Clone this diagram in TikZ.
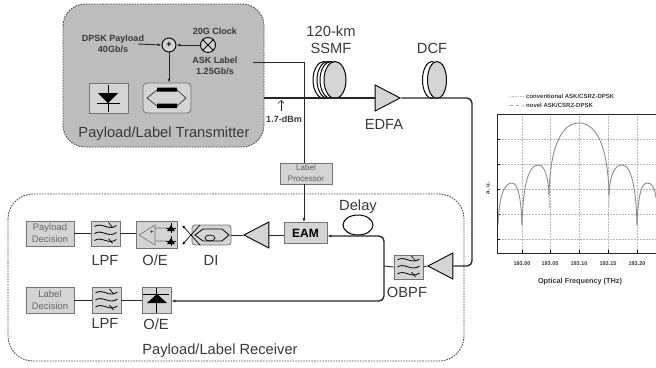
\documentclass[tikz,border=0pt]{standalone}
\usepackage{fontspec}
\setmainfont{Liberation Sans}
\usetikzlibrary{arrows.meta, positioning, shapes.geometric}

\definecolor{boxgray}{gray}{0.83}
\definecolor{txgray}{gray}{0.74}
\definecolor{inkgray}{gray}{0.22}

\tikzset{
    blockbox/.style={draw=gray!90!black, fill=boxgray, line width=0.8pt, inner sep=0pt, align=center},
    amptri/.style={draw=black, fill=boxgray, line width=0.9pt, isosceles triangle, isosceles triangle stretches,
        inner sep=0pt, minimum width=26pt, minimum height=25pt},
    amprx/.style={amptri, shape border rotate=180},
    coil/.style={draw=black, ellipse, line width=1pt, inner sep=0pt, minimum width=22pt, minimum height=37pt},
    fibre/.style={draw=black!85, line width=1.4pt},
    wire/.style={draw=black!85, line width=0.9pt},
    dashedframe/.style={draw=black!70, line width=0.9pt, dash pattern=on 1.6pt off 1.1pt},
    bigtxt/.style={font=\fontsize{14.7}{16}\selectfont, text=inkgray, inner sep=0pt},
    smalltxt/.style={font=\bfseries\fontsize{9}{11.5}\selectfont, text=inkgray, inner sep=0pt, align=center},
    decisiontxt/.style={font=\fontsize{9.5}{12}\selectfont, text=black!60},
    ticktxt/.style={font=\bfseries\fontsize{5.5}{6}\selectfont, text=inkgray, inner sep=0pt},
    filterwaves/.pic={
        \foreach \yy in {-7,0,7} {
            \draw[black, line width=0.8pt] (-11,\yy) .. controls (-4,\yy-5) and (3,\yy+5) .. (11,\yy-1);
        }
        \draw[black, line width=0.7pt] (3,-11) -- (7,-6) (3,5) -- (7,10);
    },
}

\begin{document}
\begin{tikzpicture}[x=1pt, y=-1pt]
    \useasboundingbox (0,0) rectangle (656,367);

    % transmitter
    \draw[dashedframe, fill=txgray, rounded corners=22pt] (63,4) rectangle (264,147);
    \node[smalltxt] (dpsk) at (113,44) {DPSK Payload\\40Gb/s};
    \node[smalltxt] (clocktxt) at (215,31) {20G Clock};
    \node[smalltxt] (asktxt) at (215,66) {ASK Label\\1.25Gb/s};
    \node[bigtxt] (txtitle) at (164,134) {Payload/Label Transmitter};

    \node[circle, draw=black, fill=boxgray, line width=0.9pt, minimum size=14pt, inner sep=0pt,
        font=\bfseries\fontsize{9}{9}\selectfont] (adder) at (169,45) {+};
    \node[circle, draw=black, fill=boxgray, line width=0.9pt, minimum size=15pt, inner sep=0pt] (clock) at (208,45) {};
    \draw[black, line width=0.8pt] (clock.north west) -- (clock.south east) (clock.north east) -- (clock.south west);

    \node[blockbox, minimum width=39pt, minimum height=30pt] (txdiode) at (108.5,98) {};
    \fill[black] (98,93) -- (118,93) -- (108,103) -- cycle;
    \draw[black, line width=0.9pt] (108,85) -- (108,112) (97,103.5) -- (120,103.5);

    \node[blockbox, rounded corners=4pt, minimum width=48pt, minimum height=30pt] (mzm) at (167,98) {};
    \draw[black!80, line width=0.7pt] (147,98) -- (157,90) -- (177,90) -- (186,98) -- (177,106) -- (157,106) -- cycle;
    \fill[black] (157,87.5) rectangle (177,91.5) (157,103.5) rectangle (177,108);

    \coordinate (dpskout) at (138,44);
    \draw[wire, -{Latex[length=4pt]}] (dpskout) -- (adder.west);
    \draw[wire, -{Latex[length=4pt]}] (clock.west) -- (adder.east);
    \draw[wire, -{Latex[length=4pt]}] (adder.south) -- (mzm.north -| adder);

    % fibre span
    \node[amptri] (edfa) at (383,98) {};
    \node[coil, fill=white] (ssmfa) at (324,80) {};
    \node[coil, fill=white] (ssmfb) at (328,80) {};
    \node[coil, fill=white] (ssmfc) at (331,80) {};
    \node[coil, fill=boxgray] (ssmfd) at (335,80) {};
    \node[coil, fill=white, minimum width=19pt] (dcfa) at (432,80) {};
    \node[coil, fill=boxgray, minimum width=19pt] (dcfb) at (437,80) {};
    \node[bigtxt] (kmtxt) at (331,31) {120-km};
    \node[bigtxt] (ssmftxt) at (331,48) {SSMF};
    \node[bigtxt] (dcftxt) at (432,48) {DCF};
    \node[bigtxt] (edfatxt) at (384,124) {EDFA};

    \coordinate (txout) at (264,98);
    \coordinate (powerlow) at (281,111);
    \coordinate (powerup) at (281,100);
    \node[smalltxt] (powertxt) at (284,119) {1.7-dBm};
    \draw[black!85, line width=0.6pt, -{Straight Barb[length=3pt]}] (powerlow) -- (powerup);

    % receiver
    \draw[dashedframe, rounded corners=25pt] (8,194) rectangle (464,361);
    \node[bigtxt] (rxtitle) at (220,351) {Payload/Label Receiver};

    \node[blockbox, font=\bfseries\fontsize{12}{12}\selectfont, minimum width=43pt, minimum height=21pt] (eam) at (305.5,233) {EAM};
    \node[blockbox, font=\fontsize{8}{11}\selectfont, text=black!65, minimum width=52pt, minimum height=21pt] (lblproc) at (306,173.5) {Label\\Processor};
    \coordinate (lblout) at (253,62);
    \coordinate (lblup) at (304,163);
    \coordinate (lbldown) at (304,184);
    \draw[wire] (lblout) -| (lblup);
    \draw[wire, -{Latex[length=4pt]}] (lbldown) -- (lbldown |- eam.north);

    \node[draw=black, ellipse, line width=1pt, inner sep=0pt, minimum width=30pt, minimum height=20pt] (delayloop) at (358,225) {};
    \node[bigtxt] (delaytxt) at (358,207) {Delay};

    \node[blockbox, minimum width=29pt, minimum height=24pt] (obpf) at (408.5,267) {};
    \pic at (408.5,267) {filterwaves};
    \node[bigtxt] (obpftxt) at (407,292) {OBPF};
    \node[amprx] (rxedfa) at (445,266) {};
    \node[amprx] (rxamp) at (261,235) {};

    % upper row
    \node[blockbox, decisiontxt, minimum width=48pt, minimum height=25pt] (paydec) at (50,233.5) {Payload\\Decision};
    \node[blockbox, minimum width=29pt, minimum height=25pt] (lpfa) at (105.5,233.5) {};
    \pic at (105.5,233.5) {filterwaves};
    \node[blockbox, minimum width=41pt, minimum height=27pt] (oea) at (156.5,234.5) {};
    \node[blockbox, rounded corners=3pt, minimum width=39pt, minimum height=20pt] (di) at (211.5,235) {};
    \draw[black!55, line width=0.6pt] (139,235) -- (155,225) -- (155,245) -- cycle (155,228) -- (166,228) (155,241) -- (166,241);
    \node[font=\fontsize{7}{7}\selectfont, inner sep=0pt] (oeplus) at (152,232) {+};
    \foreach \yy in {228,241} {
        \draw[black, line width=0.8pt] (171,\yy-5) -- (171,\yy+5) (166,\yy) -- (176,\yy);
        \fill[black] (167,\yy+3) -- (175,\yy+3) -- (171,\yy-3) -- cycle;
    }
    \draw[black, line width=0.8pt] (195,235) -- (203,229) -- (222,229) -- (229,235) -- (222,241) -- (203,241) -- cycle;
    \draw[black, line width=0.7pt] (210,238) ellipse (5pt and 3pt);
    \coordinate (dia) at (200,225);
    \coordinate (dib) at (200,245);
    \coordinate (oetop) at (182,225);
    \coordinate (oebot) at (182,245);
    \draw[black, line width=0.7pt, -{Latex[length=3.5pt]}] (dia) -- (oebot);
    \draw[black, line width=0.7pt, -{Latex[length=3.5pt]}] (dib) -- (oetop);
    \node[bigtxt] (lpfatxt) at (105,260) {LPF};
    \node[bigtxt] (oeatxt) at (155,260) {O/E};
    \node[bigtxt] (ditxt) at (211,260) {DI};

    % lower row
    \node[blockbox, decisiontxt, minimum width=48pt, minimum height=26pt] (lbldec) at (50,300) {Label\\Decision};
    \node[blockbox, minimum width=29pt, minimum height=26pt] (lpfb) at (106.5,300) {};
    \pic at (106.5,300) {filterwaves};
    \node[blockbox, minimum width=29pt, minimum height=26pt] (oeb) at (156.5,300) {};
    \fill[black] (147,303) -- (167,303) -- (157,294) -- cycle;
    \draw[black, line width=0.9pt] (156.5,288) -- (156.5,313) (143,294) -- (169,294);
    \node[bigtxt] (lpfbtxt) at (105,323) {LPF};
    \node[bigtxt] (oebtxt) at (156,324) {O/E};

    % connections
    \draw[fibre] (txout) -- (edfa.west);
    \draw[fibre, rounded corners=5pt] (edfa.east) -- (472,98) -- (472,266) -- (rxedfa.east);
    \draw[wire] (rxedfa.west) -- (obpf.east);
    \coordinate (split) at (384,266);
    \draw[wire] (obpf.west) -- (split);
    \draw[fibre, rounded corners=5pt, -{Latex[length=4pt]}] (split) -- (384,236) -- (eam.east |- 0,236);
    \draw[fibre, rounded corners=5pt, -{Latex[length=4pt]}] (split) -- (384,301) -- (oeb.east |- 0,301);
    \draw[wire] (eam.west |- 0,235) -- (rxamp.east);
    \draw[wire] (rxamp.west) -- (di.east);
    \draw[wire] (lpfa.east) -- (oea.west |- lpfa.east);
    \draw[wire] (paydec.east) -- (lpfa.west);
    \draw[wire] (lbldec.east) -- (lpfb.west);
    \draw[wire] (lpfb.east) -- (oeb.west);

    % spectrum
    \foreach \xx in {522,550,579,608,637} {
        \draw[gray!55, densely dotted, line width=0.5pt] (\xx,114) -- (\xx,253);
        \draw[black, line width=0.6pt] (\xx,253) -- (\xx,250);
    }
    \foreach \yy in {139,164,189,214,239} {
        \draw[gray!55, densely dotted, line width=0.5pt] (497,\yy) -- (656,\yy);
        \draw[black, line width=0.6pt] (497,\yy) -- (500,\yy);
    }
    \foreach \xa/\ya/\xp/\yp/\xb/\yb in {
        498/225/512/183/522/225,
        522/225/538/165/549/195,
        549/195/579/123/609/195,
        609/195/622/165/637/225,
        637/225/647/183/656/198} {
        \draw[gray!90, line width=0.9pt] (\xa,\ya) .. controls (\xa+1,0.7*\yp+0.3*\ya) and (0.55*\xa+0.45*\xp,\yp) .. (\xp,\yp)
            .. controls (0.45*\xp+0.55*\xb,\yp) and (\xb-1,0.7*\yp+0.3*\yb) .. (\xb,\yb);
    }
    \draw[gray!45, line width=1.1pt] (549,195) -- (549.3,208) (609,195) -- (608.7,208);
    \node[draw=black!85, line width=0.9pt, minimum width=159pt, minimum height=139pt, inner sep=0pt] (plotframe) at (576.5,183.5) {};

    \node[ticktxt, font=\bfseries\fontsize{6}{6}\selectfont, anchor=west] (legenda) at (526,96) {conventional ASK/CSRZ-DPSK};
    \node[ticktxt, font=\bfseries\fontsize{6}{6}\selectfont, anchor=west] (legendb) at (526,105) {novel ASK/CSRZ-DPSK};
    \coordinate (legaa) at (510,96);
    \coordinate (legab) at (524,96);
    \coordinate (legba) at (510,105);
    \coordinate (legbb) at (524,105);
    \draw[gray!50, densely dotted, line width=0.6pt] (legaa) -- (legab);
    \draw[gray!70, dashed, line width=0.5pt] (legba) -- (legbb);
    \node[ticktxt] (ticka) at (522,264) {193.00};
    \node[ticktxt] (tickb) at (550,264) {193.05};
    \node[ticktxt] (tickc) at (579,264) {193.10};
    \node[ticktxt] (tickd) at (608,264) {193.15};
    \node[ticktxt] (ticke) at (637,264) {193.20};
    \node[ticktxt, font=\bfseries\fontsize{7.3}{8}\selectfont] (freqtxt) at (580,282) {Optical Frequency (THz)};
    \node[ticktxt, font=\bfseries\fontsize{6}{7}\selectfont, rotate=90] (autxt) at (488,188) {a. u.};
\end{tikzpicture}
\end{document}
